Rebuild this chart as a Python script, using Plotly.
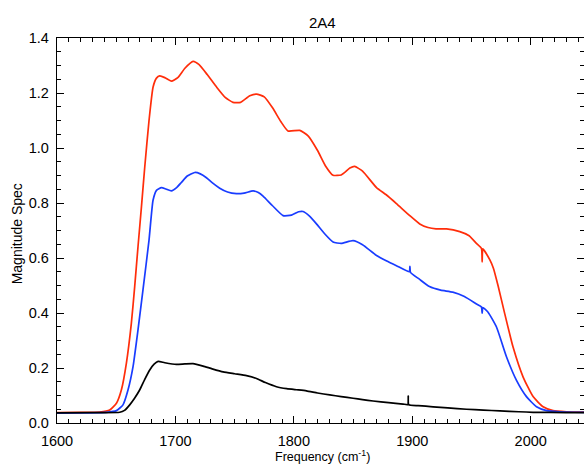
import plotly.graph_objects as go

# ---- data ----
red_x = [1600, 1620, 1636, 1644.5, 1650.2, 1654.4, 1658.6, 1662.8, 1665.6, 1668.4, 1671.3, 1674.1,
         1677.7, 1681.1, 1684, 1686.7, 1691, 1696.6, 1702, 1708, 1714.9, 1720, 1727, 1735, 1742, 1748.6,
         1755, 1762.8, 1768.4, 1775, 1782, 1789, 1795, 1805, 1812, 1820, 1827, 1833.1, 1840, 1847.3,
         1851.3, 1858, 1869.8, 1878, 1886.6, 1897.9, 1906.3, 1913.3, 1920, 1928.9, 1940.1, 1948,
         1954.2, 1958.4, 1959, 1959.6, 1965.4, 1968.5, 1972.5, 1978.1, 1985.1, 1993.6, 2002, 2010.5,
         2018.9, 2030.2, 2045]
red_y = [0.038, 0.039, 0.040, 0.047, 0.072, 0.121, 0.218, 0.363, 0.496, 0.641, 0.786, 0.931,
         1.100, 1.221, 1.254, 1.262, 1.256, 1.243, 1.256, 1.290, 1.315, 1.303, 1.266, 1.220, 1.184, 1.166,
         1.166, 1.190, 1.196, 1.186, 1.146, 1.096, 1.062, 1.064, 1.044, 0.991, 0.933, 0.901, 0.902, 0.927,
         0.933, 0.916, 0.856, 0.830, 0.798, 0.754, 0.724, 0.711, 0.706, 0.706, 0.696, 0.681,
         0.653, 0.635, 0.586, 0.633, 0.594, 0.563, 0.498, 0.397, 0.276, 0.167, 0.096, 0.059,
         0.045, 0.041, 0.040]

blue_x = [1600, 1620, 1641.7, 1650.2, 1655.7, 1660, 1664.2, 1668.4, 1672.6, 1677.7, 1681.1, 1684,
          1688.2, 1692, 1696.6, 1701, 1705.1, 1710, 1716.3, 1721, 1726.2, 1731, 1737.4, 1744, 1751.5,
          1758, 1765.6, 1770, 1774, 1782, 1790.9, 1798, 1804, 1807.8, 1813, 1819.1, 1826, 1833.1,
          1840, 1850, 1858, 1869.8, 1878, 1886.6, 1897.5, 1898, 1898.5, 1906, 1914.5, 1924, 1934.2,
          1944, 1954.2, 1958.4, 1959, 1959.6, 1964, 1971.1, 1979.6, 1988, 1996.4, 2004.9, 2013.4,
          2024.6, 2045]
blue_y = [0.036, 0.037, 0.039, 0.045, 0.066, 0.121, 0.205, 0.339, 0.484, 0.665, 0.810, 0.846,
          0.856, 0.851, 0.844, 0.856, 0.875, 0.898, 0.911, 0.906, 0.892, 0.874, 0.854, 0.840, 0.834,
          0.836, 0.844, 0.838, 0.825, 0.790, 0.754, 0.756, 0.768, 0.769, 0.753, 0.724, 0.688, 0.658,
          0.653, 0.663, 0.648, 0.609, 0.590, 0.572, 0.550, 0.570, 0.548, 0.523, 0.496, 0.483, 0.476,
          0.460, 0.433, 0.422, 0.399, 0.420, 0.403, 0.349, 0.240, 0.155, 0.096, 0.059, 0.045,
          0.041, 0.039]

black_x = [1600, 1627.6, 1653, 1657, 1661.4, 1665.5, 1669.9, 1674, 1678.3, 1682, 1685.4, 1691,
           1700.8, 1708, 1714.9, 1723.4, 1731, 1740.3, 1750, 1760, 1768.4, 1776, 1785.3, 1794,
           1802.2, 1810.6, 1820, 1830.3, 1840, 1850, 1858, 1866.9, 1880, 1892.2, 1896.2, 1896.6,
           1897.0, 1905, 1917.6, 1930, 1945.8, 1960, 1974, 1990, 2002, 2030, 2045]
black_y = [0.037, 0.038, 0.039, 0.046, 0.066, 0.090, 0.121, 0.158, 0.193, 0.214, 0.224, 0.219,
           0.213, 0.215, 0.216, 0.207, 0.197, 0.186, 0.179, 0.172, 0.162, 0.147, 0.132, 0.125,
           0.121, 0.117, 0.109, 0.102, 0.096, 0.090, 0.085, 0.080, 0.074, 0.069, 0.067, 0.098,
           0.067, 0.063, 0.059, 0.055, 0.050, 0.047, 0.044, 0.041, 0.039, 0.038, 0.038]

x_ticks = [1600, 1700, 1800, 1900, 2000]
y_ticks = [0.0, 0.2, 0.4, 0.6, 0.8, 1.0, 1.2, 1.4]

FONT = "Liberation Sans"

fig = go.Figure()
for xs, ys, col in [(red_x, red_y, "rgb(255,45,10)"),
                    (blue_x, blue_y, "rgb(25,60,255)"),
                    (black_x, black_y, "black")]:
    fig.add_trace(go.Scatter(x=xs, y=ys, mode="lines",
                             line=dict(color=col, width=1.7, shape="spline", smoothing=0.5),
                             showlegend=False))

axis_common = dict(
    showgrid=False, zeroline=False, showline=True, linecolor="black", linewidth=1.4,
    mirror="allticks", ticks="inside", tickcolor="black", tickwidth=1.4, ticklen=7,
    tickfont=dict(family=FONT, size=14.5, color="black"),
)

fig.update_xaxes(range=[1600, 2045], tickvals=x_ticks, ticktext=[str(v) for v in x_ticks],
                 minor=dict(dtick=10, tick0=1600, ticks="inside", ticklen=4, tickcolor="black",
                            tickwidth=1.2, showgrid=False),
                 ticklabelstandoff=4, **axis_common)
fig.update_yaxes(range=[0, 1.4], tickvals=y_ticks, ticktext=[f"{v:.1f}" for v in y_ticks],
                 minor=dict(dtick=0.05, tick0=0, ticks="inside", ticklen=4, tickcolor="black",
                            tickwidth=1.2, showgrid=False),
                 ticklabelstandoff=4, **axis_common)

fig.update_layout(
    width=584, height=464,
    margin=dict(l=57, r=0, t=38, b=41),
    paper_bgcolor="white", plot_bgcolor="white",
    annotations=[
        dict(text="2A4", xref="paper", yref="paper", x=0.5045, y=1.04,
             xanchor="center", yanchor="middle", showarrow=False,
             font=dict(family=FONT, size=15, color="black")),
        dict(text="Frequency (cm<sup>-1</sup>)", xref="paper", yref="paper", x=0.5045, y=-0.086,
             xanchor="center", yanchor="middle", showarrow=False,
             font=dict(family=FONT, size=12.5, color="black")),
        dict(text="Magnitude Spec", xref="paper", yref="paper", x=-0.0759, y=0.49,
             xanchor="center", yanchor="middle", showarrow=False, textangle=-90,
             font=dict(family=FONT, size=14, color="black")),
    ],
)

fig.write_html("out.html")
